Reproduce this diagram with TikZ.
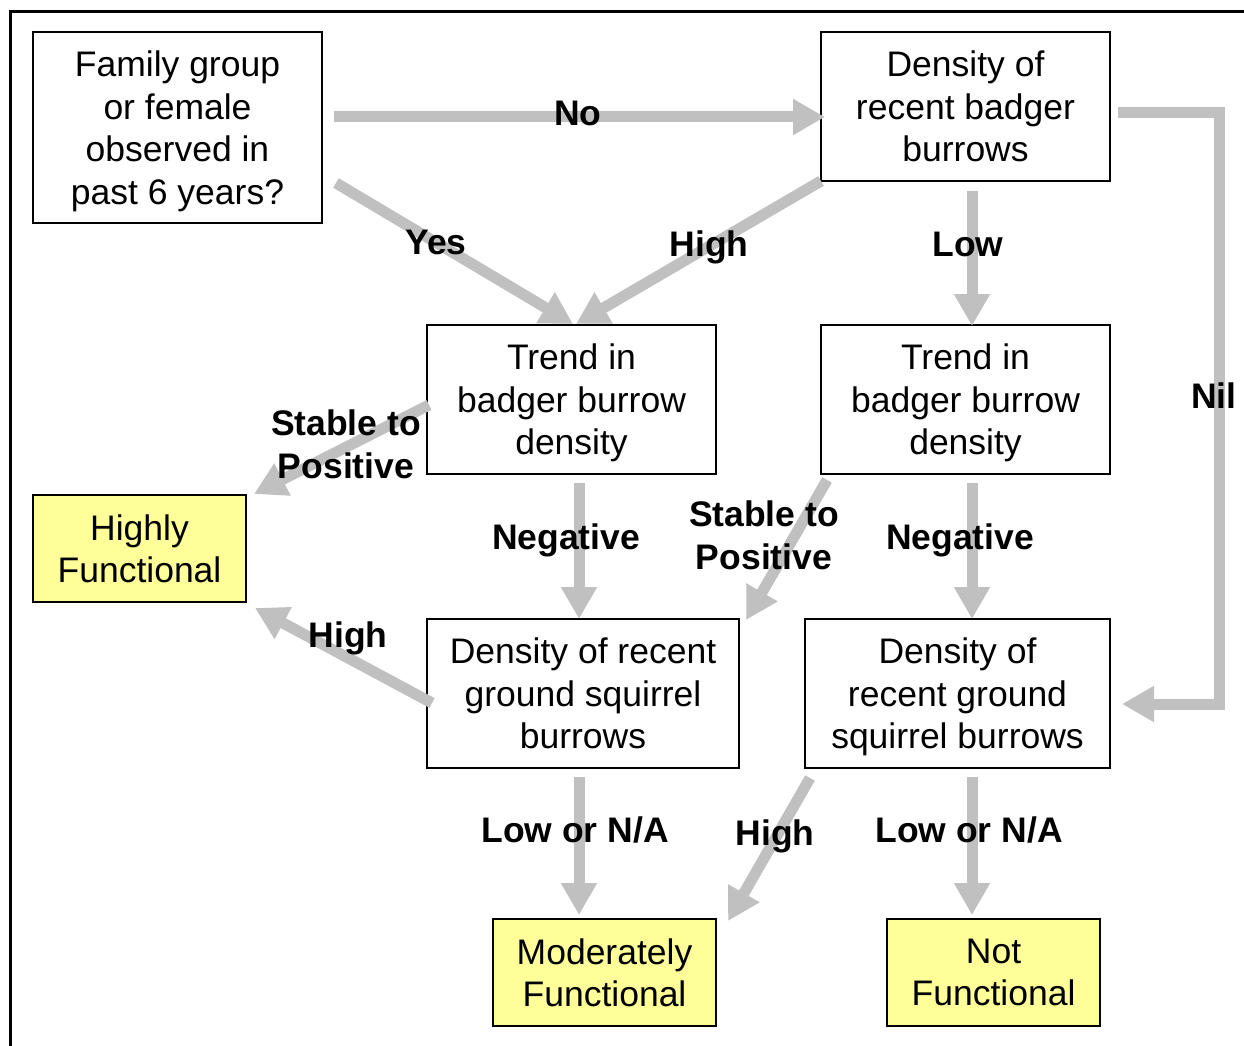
\documentclass[tikz,border=0pt]{standalone}
\usepackage{fontspec}
\setmainfont{Liberation Sans}
\usetikzlibrary{arrows.meta,calc}
\definecolor{arrgray}{HTML}{C0C0C0}
\definecolor{boxyellow}{HTML}{FFFF99}
\newcommand\pstrut{\rule[-7.5pt]{0pt}{39.6pt}}
\tikzset{
  box/.style={draw, line width=2pt, inner sep=0pt, align=center,
    font=\fontsize{35.5pt}{42.5pt}\selectfont, text depth=-9pt},
  endbox/.style={box, fill=boxyellow},
  lblbase/.style={font=\fontsize{35.5pt}{42.5pt}\selectfont\bfseries, align=center, inner sep=0pt},
  lbl/.style={lblbase, execute at begin node=\pstrut, execute at end node=\pstrut},
  lbltwo/.style={lblbase, text depth=-3.5pt},
  flow/.style={draw=arrgray, line width=11pt, line join=miter,
    -{Triangle[width=34pt,length=32pt]}},
}
\begin{document}
\begin{tikzpicture}[x=1pt,y=-1pt]
\useasboundingbox (0,0) rectangle (1244,1046);
\fill[white] (0,0) rectangle (1244,1046);
\draw[line width=3pt] (10,1046) -- (10,11.5) -- (1244,11.5);

% boxes
\node[box, minimum width=289pt, minimum height=191pt] (fam) at (177.5,127.5)
  {Family group\\or female\\observed in\\past 6 years?};
\node[box, minimum width=289pt, minimum height=149pt] (dens) at (965.5,106.5)
  {Density of\\recent badger\\burrows};
\node[box, minimum width=289pt, minimum height=149pt] (trL) at (571.5,399.5)
  {Trend in\\badger burrow\\density};
\node[box, minimum width=289pt, minimum height=149pt] (trR) at (965.5,399.5)
  {Trend in\\badger burrow\\density};
\node[endbox, minimum width=213pt, minimum height=107pt] (hf) at (139.5,548.5)
  {Highly\\Functional};
\node[box, minimum width=312pt, minimum height=149pt] (sqL) at (583,693.5)
  {Density of recent\\ground squirrel\\burrows};
\node[box, minimum width=305pt, minimum height=149pt] (sqR) at (957.5,693.5)
  {Density of\\recent ground\\squirrel burrows};
\node[endbox, minimum width=223pt, minimum height=107pt] (mf) at (604.5,972.5)
  {Moderately\\Functional};
\node[endbox, minimum width=213pt, minimum height=107pt] (nf) at (993.5,972.5)
  {Not\\Functional};

% connectors
\draw[flow] ($(fam.east)+(11,-10.5)$) -- ($(dens.west)+(5,10.5)$);
\draw[flow] ($(fam.south east)+(13,-41)$) -- ($(trL.north)+(1.5,0)$);
\draw[flow] ($(dens.south west)+(1,-1)$) -- ($(trL.north)+(4.5,0)$);
\draw[flow] ($(dens.south)+(6.5,9)$) -- ($(trR.north)+(6.5,2)$);
\draw[flow] ($(dens.east)+(7,6.5)$) -- ++(101,0) |- ($(sqR.east)+(11,10.5)$);
\draw[flow] ($(trL.west)+(3,5.5)$) -- ($(hf.north east)+(7,0)$);
\draw[flow] ($(trL.south)+(7.5,8)$) -- ($(sqL.north)+(-4,1)$);
\draw[flow] ($(trR.south west)+(7,5)$) -- ($(sqL.north east)+(6,2)$);
\draw[flow] ($(trR.south)+(6.5,8)$) -- ($(sqR.north)+(14.5,1)$);
\draw[flow] ($(sqL.west)+(6,9.5)$) -- ($(hf.south east)+(8,5)$);
\draw[flow] ($(sqL.south)+(-4,8)$) -- ($(mf.north)+(-25.5,-3)$);
\draw[flow] ($(sqR.south west)+(6,9)$) -- ($(mf.north east)+(11,3)$);
\draw[flow] ($(sqR.south)+(14.5,8)$) -- ($(nf.north)+(-21.5,-3)$);

% labels
\node[lbl] (lNo) at (578,113) {No};
\node[lbl] (lYes) at (436,242) {Yes};
\node[lbl] (lHigh1) at (709,244) {High};
\node[lbl] (lLow) at (968,244) {Low};
\node[lbl] (lNil) at (1214,396) {Nil};
\node[lbltwo] (lStL) at (346,444) {Stable to\\Positive};
\node[lbl] (lNegL) at (566,537) {Negative};
\node[lbltwo] (lStR) at (764,535) {Stable to\\Positive};
\node[lbl] (lNegR) at (960,537) {Negative};
\node[lbl] (lHigh2) at (348,635) {High};
\node[lbl] (lLowL) at (575,830) {Low or N/A};
\node[lbl] (lHigh3) at (775,833) {High};
\node[lbl] (lLowR) at (969,830) {Low or N/A};
\end{tikzpicture}
\end{document}
